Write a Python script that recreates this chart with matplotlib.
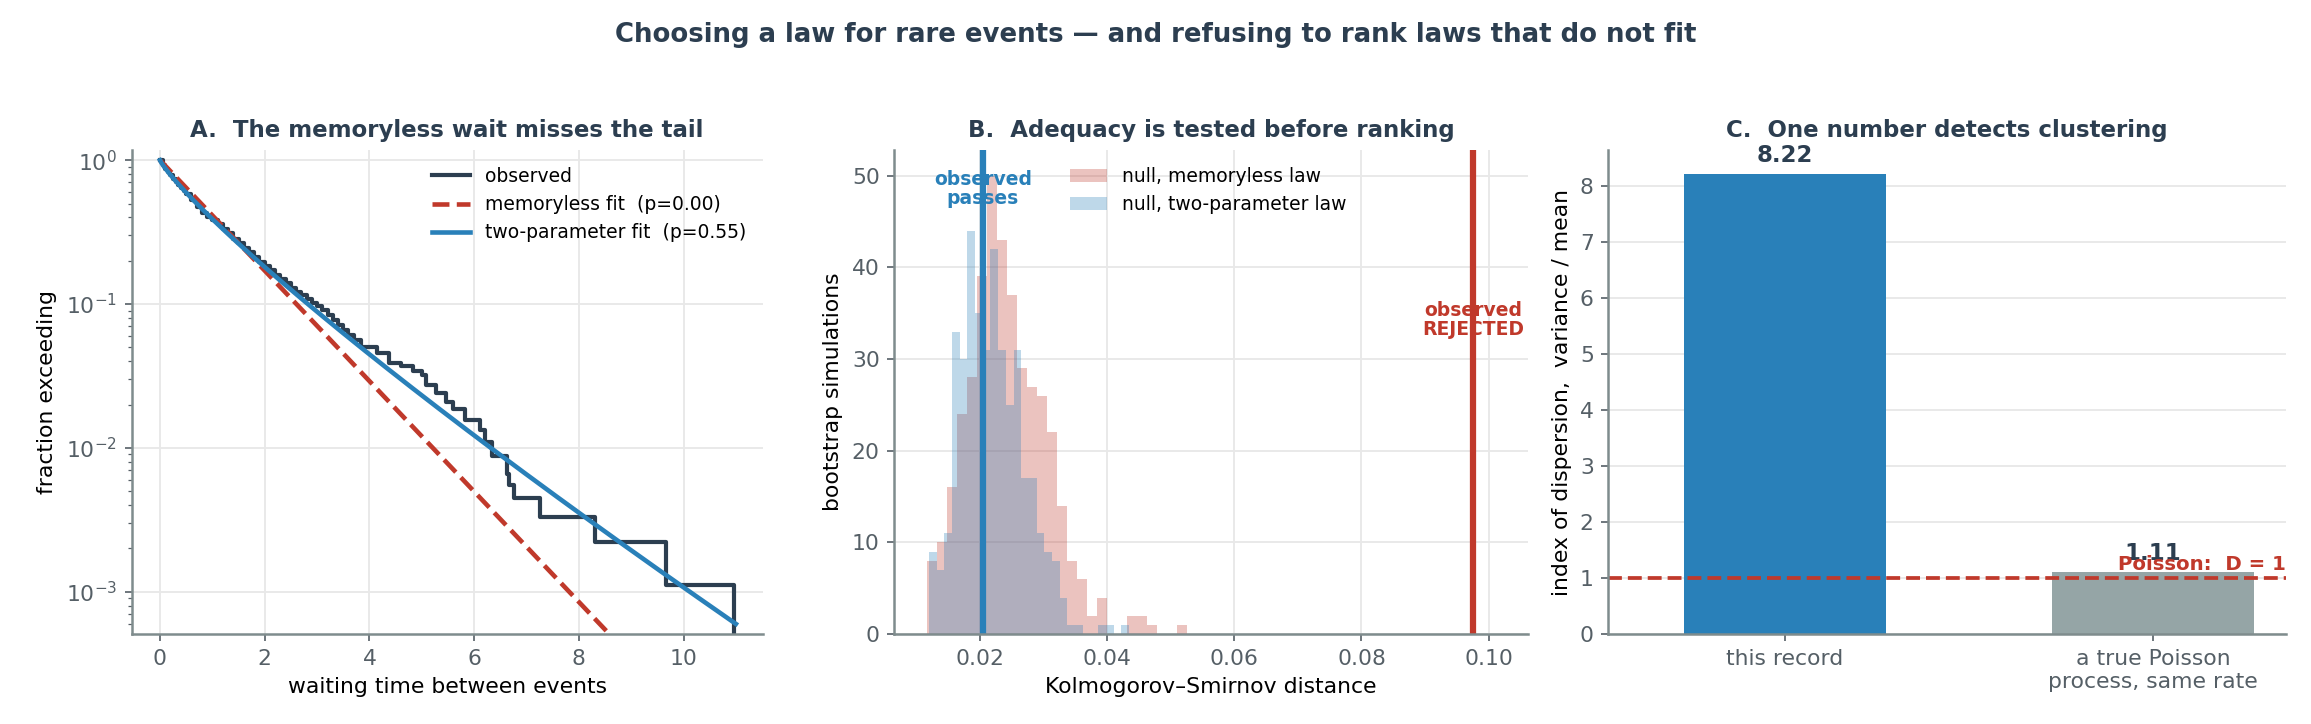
import numpy as np
import matplotlib
matplotlib.use("Agg")
import matplotlib.pyplot as plt

# ---------------- data ----------------
# Panel A: observed survival (step)
obs_x = [0.0, 0.05, 0.1, 0.15, 0.2, 0.25, 0.3, 0.35, 0.4, 0.45, 0.5, 0.6, 0.7, 0.8, 0.9,
         1.0, 1.1, 1.2, 1.3, 1.4, 1.5, 1.6, 1.7, 1.8, 1.9, 2.0, 2.1, 2.2, 2.3, 2.4, 2.5,
         2.6, 2.7, 2.8, 2.9, 3.0, 3.1, 3.2, 3.3, 3.4, 3.5, 3.6, 3.7,
         3.83, 4.15, 4.37, 4.6, 4.84, 5.0, 5.08, 5.28, 5.47, 5.6, 5.83, 6.12,
         6.21, 6.35, 6.63, 6.66, 6.76, 7.25, 8.31, 9.66, 10.97]
obs_y = [1.0, 0.93, 0.875, 0.83, 0.785, 0.745, 0.71, 0.675, 0.64, 0.61, 0.58, 0.525,
         0.47, 0.43, 0.405, 0.382, 0.358, 0.335, 0.31, 0.285, 0.264, 0.246, 0.229,
         0.212, 0.197, 0.184, 0.172, 0.16, 0.149, 0.139, 0.13, 0.122, 0.115, 0.108,
         0.102, 0.097, 0.091, 0.084, 0.077, 0.071, 0.066, 0.061, 0.056,
         0.0504, 0.046, 0.039, 0.0369, 0.034,
         0.032, 0.0273, 0.024, 0.021, 0.0185, 0.0155, 0.0133, 0.011, 0.0088, 0.0066,
         0.0055, 0.00446, 0.00331, 0.00221, 0.001115, 0.0004]
exp_rate = 0.884           # memoryless fit rate
wb_shape, wb_scale = 0.861, 1.072   # two-parameter fit
p_exp, p_wb = 0.00, 0.55

# Panel B: bootstrap KS histograms
red_x0, red_w = 0.01177, 0.00157
red_counts = [8, 10, 16, 24, 28, 39, 50, 43, 37, 29, 27, 26, 22, 14, 8, 6, 2, 4,
              0, 0, 2, 2, 1, 0, 0, 1]
blue_x0, blue_w = 0.01202, 0.00121
blue_counts = [9, 7, 11, 33, 30, 44, 35, 31, 42, 31, 25, 31, 17, 17, 11, 9, 8, 4,
               1, 1, 0, 0, 1, 1, 0, 1]
ks_obs_two = 0.0205
ks_obs_exp = 0.0975

# Panel C: dispersion
disp_labels = ["this record", "a true Poisson\nprocess, same rate"]
disp_values = [8.22, 1.11]

# ---------------- style ----------------
C_DARK = "#2c3e50"
C_RED = "#c0392b"
C_BLUE = "#2980b9"
C_GREY = "#95a5a6"
SP = "#7f8c8d"

plt.rcParams["font.family"] = ["DejaVu Sans"]
fig = plt.figure(figsize=(2311 / 150, 724 / 150), dpi=150)
axA = fig.add_axes([0.057, 0.124, 0.273, 0.669])
axB = fig.add_axes([0.387, 0.124, 0.274, 0.669])
axC = fig.add_axes([0.696, 0.124, 0.293, 0.669])

for ax in (axA, axB, axC):
    for s in ("top", "right"):
        ax.spines[s].set_visible(False)
    for s in ("left", "bottom"):
        ax.spines[s].set_color(SP)
        ax.spines[s].set_linewidth(1.2)
    ax.tick_params(colors="#555f66", labelsize=10.5, which="both")
    ax.grid(True, color="#e8e8e8", linewidth=0.9)
    ax.set_axisbelow(True)

fig.suptitle("Choosing a law for rare events — and refusing to rank laws that do not fit",
             fontsize=12.5, fontweight="bold", color=C_DARK, y=0.97)

# ---- A ----
xs = np.linspace(0, 11, 400)
axA.step(obs_x, obs_y, where="post", color=C_DARK, lw=2, label="observed")
axA.plot(xs, np.exp(-exp_rate * xs), "--", color=C_RED, lw=2.2,
         label=f"memoryless fit  (p={p_exp:.2f})")
axA.plot(xs, np.exp(-(xs / wb_scale) ** wb_shape), color=C_BLUE, lw=2.2,
         label=f"two-parameter fit  (p={p_wb:.2f})")
axA.set_yscale("log")
axA.set_xlim(-0.54, 11.51)
axA.set_ylim(5.06e-4, 1.18)
axA.set_xticks([0, 2, 4, 6, 8, 10])
axA.set_xlabel("waiting time between events", fontsize=10.5)
axA.set_ylabel("fraction exceeding", fontsize=10.5)
axA.set_title("A.  The memoryless wait misses the tail", fontsize=11, fontweight="bold",
              color=C_DARK)
axA.legend(loc="upper right", frameon=False, fontsize=9)

# ---- B ----
red_edges = red_x0 + red_w * np.arange(len(red_counts) + 1)
blue_edges = blue_x0 + blue_w * np.arange(len(blue_counts) + 1)
axB.stairs(red_counts, red_edges, fill=True, color=C_RED, alpha=0.3,
           label="null, memoryless law")
axB.stairs(blue_counts, blue_edges, fill=True, color=C_BLUE, alpha=0.3,
           label="null, two-parameter law")
axB.axvline(ks_obs_two, color=C_BLUE, lw=3)
axB.axvline(ks_obs_exp, color=C_RED, lw=3)
axB.text(ks_obs_two, 48.5, "observed\npasses", color=C_BLUE, fontweight="bold",
         fontsize=9, ha="center", va="center", linespacing=1.0)
axB.text(ks_obs_exp, 34.2, "observed\nREJECTED", color=C_RED, fontweight="bold",
         fontsize=9, ha="center", va="center", linespacing=1.0)
axB.set_xlim(0.0066, 0.1061)
axB.set_ylim(0, 52.8)
axB.set_xticks([0.02, 0.04, 0.06, 0.08, 0.10])
axB.set_xticklabels(["0.02", "0.04", "0.06", "0.08", "0.10"])
axB.set_xlabel("Kolmogorov–Smirnov distance", fontsize=10.5)
axB.set_ylabel("bootstrap simulations", fontsize=10.5)
axB.set_title("B.  Adequacy is tested before ranking", fontsize=11, fontweight="bold",
              color=C_DARK)
axB.legend(loc="upper left", bbox_to_anchor=(0.25, 1.0), frameon=False, fontsize=9)

# ---- C ----
pos = np.arange(len(disp_values))
axC.bar(pos, disp_values, width=0.55, color=[C_BLUE, C_GREY])
for p, v in zip(pos, disp_values):
    axC.text(p, v + 0.12, f"{v:.2f}", ha="center", va="bottom", fontsize=11,
             fontweight="bold", color=C_DARK)
axC.axhline(1, color=C_RED, ls="--", lw=1.8)
axC.text(1.36, 1.08, "Poisson:  D = 1", color=C_RED, fontweight="bold", fontsize=9.5,
         ha="right", va="bottom")
axC.set_xlim(-0.48, 1.36)
axC.set_ylim(0, 8.65)
axC.set_xticks(pos)
axC.set_xticklabels(disp_labels)
axC.grid(False, axis="x")
axC.set_ylabel("index of dispersion,  variance / mean", fontsize=10.5)
axC.set_title("C.  One number detects clustering", fontsize=11, fontweight="bold",
              color=C_DARK)

fig.savefig("out.png", dpi=150)
